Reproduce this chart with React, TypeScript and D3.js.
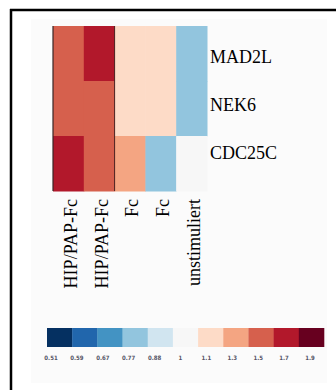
import { useEffect, useRef } from 'react'
import * as d3 from 'd3'

const genes = ['MAD2L', 'NEK6', 'CDC25C']
const samples = ['HIP/PAP-Fc', 'HIP/PAP-Fc', 'Fc', 'Fc', 'unstimuliert']
const sampleKeys = ['s1', 's2', 's3', 's4', 's5']

// fold change per gene, one value per sample
const mad2l = [1.5, 1.7, 1.1, 1.1, 0.77]
const nek6 = [1.5, 1.5, 1.1, 1.1, 0.77]
const cdc25c = [1.7, 1.5, 1.3, 0.77, 1]

const legendBreaks = [0.51, 0.59, 0.67, 0.77, 0.88, 1, 1.1, 1.3, 1.5, 1.7, 1.9]
const legendColors = [
  '#053061', '#2166ac', '#4393c3', '#92c5de', '#d1e5f0', '#f7f7f7',
  '#fddbc7', '#f4a582', '#d6604d', '#b2182b', '#67001f',
]

const SERIF = 'Liberation Serif, DejaVu Serif, serif'

export default function App() {
  const ref = useRef<SVGSVGElement>(null)

  useEffect(() => {
    if (!ref.current) return
    const svg = d3.select(ref.current)
    svg.selectAll('*').remove()

    const W = 336
    const H = 390
    const values = [mad2l, nek6, cdc25c]

    // outer frame (right/bottom cut off)
    svg.append('rect').attr('x', 31).attr('y', 19).attr('width', 296).attr('height', 364).attr('fill', '#fbfbfb')
    svg.append('line').attr('x1', 11).attr('x2', 11).attr('y1', 9).attr('y2', H).attr('stroke', '#000').attr('stroke-width', 2.5)
    svg.append('line').attr('x1', 10).attr('x2', W).attr('y1', 10).attr('y2', 10).attr('stroke', '#000').attr('stroke-width', 2.5)

    const x = d3.scaleBand().domain(sampleKeys).range([53, 207])
    const y = d3.scaleBand().domain(genes).range([26, 191])
    const color = d3.scaleThreshold<number, string>()
      .domain(legendBreaks.slice(1).map((b, i) => (b + legendBreaks[i]) / 2))
      .range(legendColors)

    const g = svg.append('g')
    genes.forEach((gene, r) => {
      sampleKeys.forEach((s, c) => {
        g.append('rect')
          .attr('x', x(s)!)
          .attr('y', y(gene)!)
          .attr('width', x.bandwidth() + 0.5)
          .attr('height', y.bandwidth() + 0.5)
          .attr('fill', color(values[r][c]))
      })
    })

    // cluster separators
    g.append('line').attr('x1', x('s1')!).attr('x2', x('s1')!).attr('y1', 26).attr('y2', 191)
      .attr('stroke', '#3a2626').attr('stroke-width', 1.2)
    g.append('line').attr('x1', x('s3')!).attr('x2', x('s3')!).attr('y1', 26).attr('y2', 191)
      .attr('stroke', '#4a2020').attr('stroke-width', 1)

    // row labels
    const ly = d3.scaleBand().domain(genes).range([33, 177])
    genes.forEach((gene) => {
      svg.append('text')
        .attr('x', 210)
        .attr('y', ly(gene)! + ly.bandwidth() / 2)
        .attr('dy', '0.35em')
        .attr('font-family', SERIF)
        .attr('font-size', 18)
        .attr('fill', '#000')
        .text(gene)
    })

    // column labels
    samples.forEach((s, i) => {
      const cx = x(sampleKeys[i])! + x.bandwidth() / 2 + 2
      svg.append('text')
        .attr('transform', `translate(${cx},199) rotate(-90)`)
        .attr('text-anchor', 'end')
        .attr('dy', '0.35em')
        .attr('font-family', SERIF)
        .attr('font-size', 18)
        .attr('fill', '#000')
        .text(s)
    })

    // colour key
    const lx = d3.scaleBand().domain(legendBreaks.map(String)).range([47, 324])
    legendBreaks.forEach((b, i) => {
      svg.append('rect')
        .attr('x', lx(String(b))!)
        .attr('y', 328)
        .attr('width', lx.bandwidth() + 0.3)
        .attr('height', 19)
        .attr('fill', legendColors[i])
    })
    const lt = d3.scalePoint().domain(legendBreaks.map(String)).range([51, 310])
    legendBreaks.forEach((b) => {
      svg.append('text')
        .attr('x', lt(String(b))!)
        .attr('y', 360)
        .attr('text-anchor', 'middle')
        .attr('font-family', 'Liberation Sans Narrow, DejaVu Sans Condensed, sans-serif')
        .attr('font-size', 6)
        .attr('font-weight', 'bold')
        .attr('fill', '#556')
        .text(String(b))
    })
  }, [])

  return (
    <svg
      ref={ref}
      width={336}
      height={390}
      style={{ position: 'absolute', left: 0, top: 0, background: '#fff' }}
    />
  )
}
